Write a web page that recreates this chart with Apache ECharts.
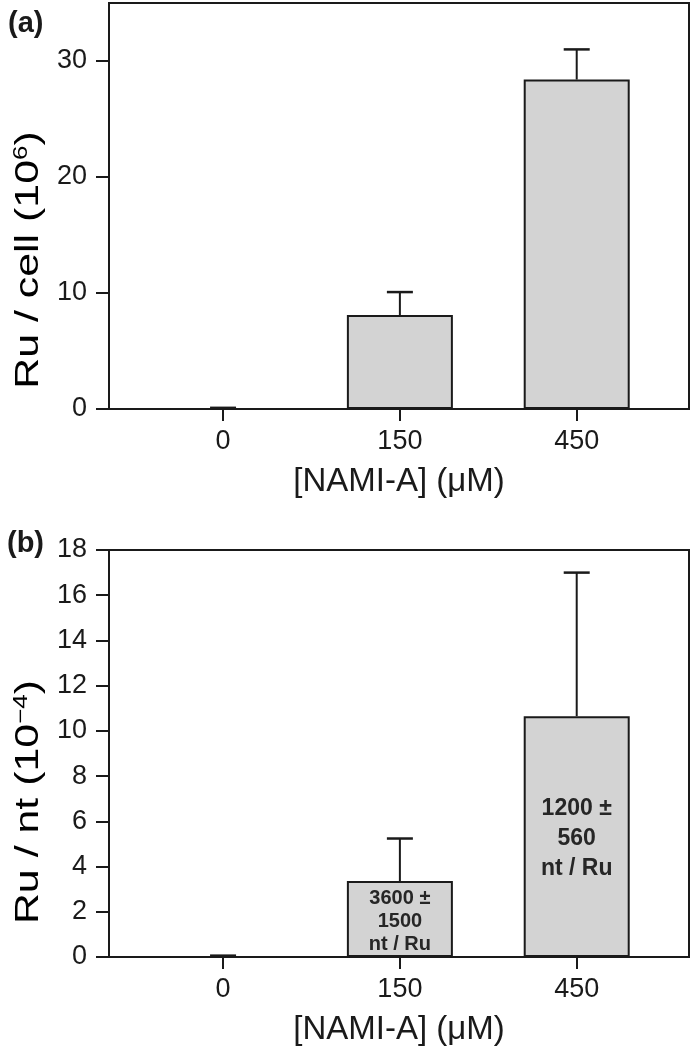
<!DOCTYPE html>
<html>
<head>
<meta charset="utf-8">
<script src="https://cdn.jsdelivr.net/npm/echarts@6/dist/echarts.min.js"></script>
<style>
html,body{margin:0;padding:0;background:#fff;}
#chart{width:693px;height:1050px;}
</style>
</head>
<body>
<div id="chart"></div>
<script>
// ---- data ----
const categories = ['0', '150', '450'];
const cellValues = [0, 8.1, 28.4];
const cellErrors = [0.1, 1.98, 2.6];
const ntValues = [0, 3.36, 10.65];
const ntErrors = [0.06, 1.88, 6.35];
const cellTicks = [0, 10, 20, 30];
const ntTicks = [0, 2, 4, 6, 8, 10, 12, 14, 16, 18];
const ntAnnotations = ['', '3600 ±\n1500\nnt / Ru', '1200 ±\n560\nnt / Ru'];
const annotationFontSizes = [0, 20, 23];
const annotationLineHeights = [0, 23, 30];

const FONT = 'Liberation Sans, Arial, sans-serif';
const INK = '#1a1a1a';

const chart = echarts.init(document.getElementById('chart'), null, {renderer: 'canvas'});

const grids = [
  {left: 109, right: 4, top: 3, height: 406, show: true, borderColor: INK, borderWidth: 2},
  {left: 109, right: 4, top: 550, height: 407, show: true, borderColor: INK, borderWidth: 2}
];

function xAxisDef(gi) {
  return {
    type: 'value', gridIndex: gi, min: -0.645, max: 2.635,
    splitLine: {show: false},
    axisLine: {show: true, onZero: false, lineStyle: {color: INK, width: 2}},
    axisTick: {show: true, length: 12, lineStyle: {color: INK, width: 2}, customValues: [0, 1, 2]},
    axisLabel: {
      customValues: [0, 1, 2], formatter: v => categories[Math.round(v)],
      fontSize: 27, fontFamily: FONT, color: INK, margin: 19
    },
    name: '[NAMI-A] (μM)', nameLocation: 'middle', nameGap: 56,
    nameTextStyle: {fontSize: 33, fontFamily: FONT, color: INK}
  };
}
function yAxisDef(gi, max, interval, ticks) {
  return {
    type: 'value', gridIndex: gi, min: 0, max: max, interval: interval,
    splitLine: {show: false},
    axisLine: {show: true, onZero: false, lineStyle: {color: INK, width: 2}},
    axisTick: {show: true, length: 13, lineStyle: {color: INK, width: 2}, customValues: ticks},
    axisLabel: {customValues: ticks, fontSize: 27, fontFamily: FONT, color: INK, margin: 22}
  };
}

function barSeries(gi, values) {
  return {
    type: 'bar', xAxisIndex: gi, yAxisIndex: gi, barWidth: 106,
    data: values.map((v, i) => [i, v]),
    itemStyle: {color: '#d3d3d3', borderColor: INK, borderWidth: 2},
    silent: true, animation: false
  };
}
function errSeries(gi, values, errs) {
  return {
    type: 'custom', xAxisIndex: gi, yAxisIndex: gi,
    data: values.map((v, i) => [i, v, errs[i]]),
    renderItem: function (params, api) {
      const x = api.value(0), y = api.value(1), e = api.value(2);
      const p0 = api.coord([x, y]);
      const p1 = api.coord([x, y + e]);
      const hw = 13;
      return {
        type: 'group',
        children: [
          {type: 'line', shape: {x1: p0[0], y1: p0[1], x2: p1[0], y2: p1[1]}, style: {stroke: INK, lineWidth: 2}},
          {type: 'line', shape: {x1: p1[0] - hw, y1: p1[1], x2: p1[0] + hw, y2: p1[1]}, style: {stroke: INK, lineWidth: 2.5}}
        ]
      };
    },
    z: 3, silent: true, animation: false
  };
}
function annotationSeries(gi, values, texts) {
  return {
    type: 'custom', xAxisIndex: gi, yAxisIndex: gi,
    data: values.map((v, i) => [i, v]),
    renderItem: function (params, api) {
      const i = params.dataIndex;
      if (!texts[i]) return null;
      const p = api.coord([api.value(0), api.value(1) / 2]);
      return {
        type: 'text', x: p[0], y: p[1] + 2,
        style: {
          text: texts[i], fill: '#262626', font: 'bold ' + annotationFontSizes[i] + 'px ' + FONT,
          align: 'center', verticalAlign: 'middle', lineHeight: annotationLineHeights[i]
        }
      };
    },
    z: 4, silent: true, animation: false
  };
}

function yTitle(cx, cy, base, sup) {
  return {
    type: 'text', x: cx, y: cy, rotation: Math.PI / 2, scaleX: 1.3, scaleY: 1,
    style: {
      rich: {
        n: {fontSize: 33, fontFamily: FONT, color: INK},
        s: {fontSize: 20, fontFamily: FONT, color: INK, padding: [0, 0, 15, 0]}
      },
      text: '{n|' + base + '}{s|' + sup + '}{n|)}', align: 'center', verticalAlign: 'middle'
    }
  };
}

chart.setOption({
  animation: false,
  grid: grids,
  xAxis: [xAxisDef(0), xAxisDef(1)],
  yAxis: [yAxisDef(0, 35, 10, cellTicks), yAxisDef(1, 18, 2, ntTicks)],
  series: [
    barSeries(0, cellValues), errSeries(0, cellValues, cellErrors),
    barSeries(1, ntValues), errSeries(1, ntValues, ntErrors),
    annotationSeries(1, ntValues, ntAnnotations)
  ],
  graphic: [
    {type: 'text', left: 8, top: 9, style: {text: '(a)', font: 'bold 29px ' + FONT, fill: INK}},
    {type: 'text', left: 7, top: 529, style: {text: '(b)', font: 'bold 29px ' + FONT, fill: INK}},
    yTitle(29, 260, 'Ru / cell (10', '6'),
    yTitle(29, 802, 'Ru / nt (10', '−4')
  ]
});
</script>
</body>
</html>
